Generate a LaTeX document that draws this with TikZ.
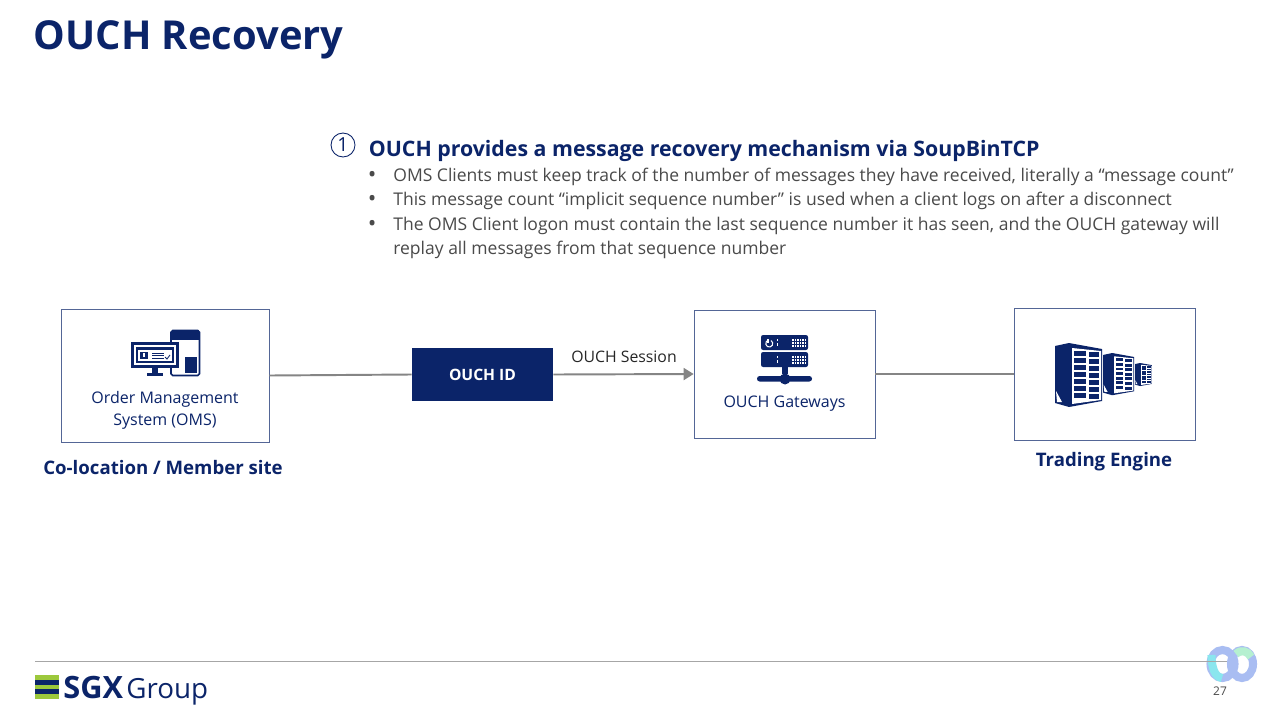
\documentclass[tikz,border=0pt]{standalone}
\usepackage{fontspec}
\setmainfont{Open Sans}
\usepackage{xcolor}
\usetikzlibrary{arrows.meta,positioning}
\definecolor{sgxnavy}{HTML}{0B2469}
\definecolor{sgxlime}{HTML}{9CC83C}
\definecolor{bodygray}{HTML}{4A4A4A}
\definecolor{linegray}{HTML}{858585}
\definecolor{webexblue}{HTML}{A9BDF2}
\definecolor{webexcyan}{HTML}{8AE6EE}
\definecolor{webexgreen}{HTML}{B5F0D0}
\tikzset{
	panel/.style={draw=sgxnavy!70,line width=0.45pt,fill=white,inner sep=0pt},
	boxlabel/.style={text=sgxnavy,font=\fontsize{9.1}{12.4}\selectfont,align=center,inner sep=0pt},
	caption/.style={text=sgxnavy,font=\fontsize{10.6}{12}\selectfont\bfseries,inner sep=0pt,anchor=base},
	bodyline/.style={text=bodygray,font=\fontsize{9.97}{12}\selectfont,inner sep=0pt,anchor=base west},
	link/.style={draw=linegray,line width=1.1pt},
}
% one server tower, drawn in its own units from the top left corner
\newcommand{\towericon}[3]{
	\begin{scope}[shift={(#1,#2)},x=#3*0.02cm,y=-#3*0.02cm]
		\fill[sgxnavy] (0,3) -- (14,0) -- (47,6) -- (47,58) -- (14,64) -- (0,60) -- cycle;
		\fill[white] (17,5) -- (46,8) -- (46,57) -- (17,61) -- cycle;
		\fill[white] (1,48) -- (7,59) -- (2,59) -- cycle;
		\foreach \row in {0,...,6} {
			\fill[sgxnavy] (19,8+\row*7) rectangle (31,12.5+\row*7);
			\fill[sgxnavy] (34,9+\row*7) rectangle (44,13.5+\row*7);
		}
	\end{scope}
}
\begin{document}
\begin{tikzpicture}[x=0.02cm,y=-0.02cm]
	\useasboundingbox[fill=white] (0,0) rectangle (1270,713);
	% title and text
	\node[text=sgxnavy,font=\fontsize{22.7}{24}\selectfont\bfseries,inner sep=0pt,anchor=base west] (title) at (33.5,50) {OUCH Recovery};
	\node[circle,draw=sgxnavy,line width=0.5pt,minimum size=0.48cm,inner sep=0pt,text=sgxnavy,font=\fontsize{11}{12}\selectfont] (num) at (343,145) {1};
	\node[text=sgxnavy,font=\fontsize{12.13}{14}\selectfont\bfseries,inner sep=0pt,anchor=base west] (head) at (368.5,156) {OUCH provides a message recovery mechanism via SoupBinTCP};
	\foreach \name/\ypos/\txt in {
		lineone/181/{OMS Clients must keep track of the number of messages they have received, literally a “message count”},
		linetwo/205/{This message count “implicit sequence number” is used when a client logs on after a disconnect},
		linethree/230/{The OMS Client logon must contain the last sequence number it has seen, and the OUCH gateway will}} {
		\node[bodyline] (\name) at (393,\ypos) {\txt};
		\node[bodyline,font=\fontsize{13}{12}\selectfont] (\name dot) at (367.5,\ypos+1) {•};
	}
	\node[bodyline] (linefour) at (393,254) {replay all messages from that sequence number};
	% boxes
	\node[panel,minimum width=4.16cm,minimum height=2.66cm] (oms) at (165,375.5) {};
	\node[panel,minimum width=3.62cm,minimum height=2.56cm] (gateways) at (784.5,374) {};
	\node[panel,minimum width=3.62cm,minimum height=2.64cm] (engine) at (1104.5,374) {};
	\node[fill=sgxnavy,text=white,minimum width=2.82cm,minimum height=1.06cm,inner sep=0pt,font=\fontsize{8.9}{12}\selectfont\bfseries] (ouchid) at (482.5,374.5) {OUCH ID};
	% connectors
	\draw[link] (oms.east) -- (ouchid.west);
	\draw[link,-{Triangle[length=0.2cm,width=0.24cm]}] (ouchid.east) -- (gateways.west);
	\draw[link] (gateways.east) -- (engine.west);
	\node[text=black!85,font=\fontsize{9}{12}\selectfont,inner sep=0pt,anchor=base] (session) at (624,362) {OUCH Session};
	% box labels
	\node[boxlabel] (omslabel) at (165,410) {Order Management\\System (OMS)};
	\node[boxlabel,anchor=base] (gwlabel) at (784.5,407) {OUCH Gateways};
	\node[caption] (site) at (163,474) {Co-location / Member site};
	\node[caption] (enginelabel) at (1104,466.5) {Trading Engine};
	% oms icon
	\draw[sgxnavy,line width=1pt,rounded corners=1pt,fill=white] (171,330.5) rectangle (199.5,375.5);
	\fill[sgxnavy] (172,330) rectangle (199,340);
	\fill[sgxnavy] (185,357) rectangle (197,373);
	\fill[sgxnavy] (131,342) rectangle (179,368);
	\fill[white] (134,345) rectangle (176,365);
	\fill[sgxnavy] (136,347) rectangle (174,363);
	\fill[white] (138,350) rectangle (172,360.5);
	\fill[sgxnavy] (140,351.5) rectangle (148,359);
	\fill[white] (143,353) rectangle (145,357);
	\foreach \ypos in {353,355.5,358} \draw[sgxnavy,line width=0.5pt] (152,\ypos) -- (164,\ypos);
	\draw[sgxnavy,line width=0.5pt] (165,357) -- (167,359) -- (170,355);
	\fill[sgxnavy] (152,368) rectangle (158,373);
	\fill[sgxnavy] (147,373) rectangle (163,376);
	% gateway icon
	\foreach \ypos in {335,352} {
		\fill[sgxnavy,rounded corners=1.2pt] (761,\ypos) rectangle (808,\ypos+15);
		\fill[white] (777,\ypos+4) rectangle (778,\ypos+6);
		\fill[white] (777,\ypos+8) rectangle (778,\ypos+11);
		\foreach \xpos in {792,794.5,797,799.5,802,804.5} \foreach \dy in {4,7,10}
			\fill[white] (\xpos,\ypos+\dy) rectangle ++(1.5,2);
	}
	\draw[white,line width=0.6pt] (771,340.5) arc[start angle=60,end angle=-240,radius=0.07cm];
	\draw[white,line width=0.6pt] (768,339) -- (768,343);
	\fill[sgxnavy] (782,367) rectangle (788,374);
	\fill[sgxnavy,rounded corners=1.5pt] (757,376) rectangle (812,381.5);
	\fill[sgxnavy] (785,379) circle (5.5);
	% engine icon
	\towericon{1055}{343}{1}
	\towericon{1103}{353}{0.66}
	\towericon{1135}{363}{0.36}
	% webex mark
	\draw[webexblue,line width=4.6pt] (1222.5,664) ellipse (12 and 14);
	\draw[webexblue,line width=4.6pt] (1242,664) ellipse (11 and 14);
	\draw[webexcyan,line width=4.6pt] (1211.5,655) .. controls (1211.5,668) and (1215,677) .. (1222,678);
	\draw[webexgreen,line width=4.6pt] (1236,654) .. controls (1241,649) and (1248,651) .. (1251,657);
	% footer
	\draw[gray!70,line width=0.5pt] (35,661) -- (1227,661);
	\foreach \ypos/\barcolor in {675/sgxlime,680/sgxnavy,684.5/sgxlime,689/sgxnavy,694/sgxlime}
		\fill[\barcolor] (35,\ypos) rectangle (59,\ypos+5);
	\node[text=sgxnavy,font=\fontsize{17.5}{20}\selectfont\bfseries,inner sep=0pt,anchor=base west] (sgx) at (63,698) {SGX};
	\node[text=sgxnavy,font=\fontsize{15.8}{20}\selectfont,inner sep=0pt,anchor=base west] (group) at (126,698) {Group};
	\node[text=bodygray,font=\fontsize{6.8}{8}\selectfont,inner sep=0pt,anchor=base] (page) at (1220,695) {27};
\end{tikzpicture}
\end{document}
